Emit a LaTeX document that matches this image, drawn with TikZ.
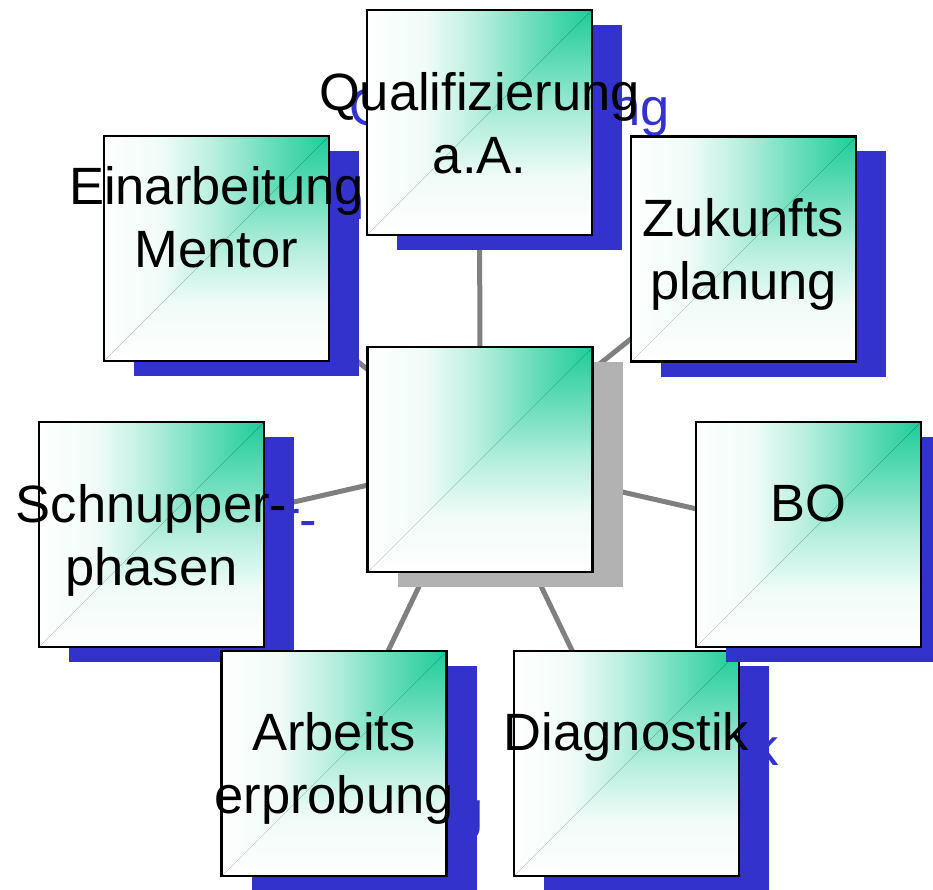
\documentclass[tikz,border=0pt]{standalone}
\usepackage{fontspec}
\setmainfont{Liberation Sans}
\definecolor{gr}{RGB}{30,204,153}
\definecolor{shblue}{RGB}{51,51,204}
\definecolor{shgray}{RGB}{178,178,178}
\definecolor{lngray}{RGB}{128,128,128}
\pgfdeclarehorizontalshading{gx}{100bp}{color(0bp)=(white); color(25bp)=(white); color(38bp)=(gr!7); color(50bp)=(gr!33); color(62.5bp)=(gr!68); color(75bp)=(gr); color(100bp)=(gr)}
\pgfdeclareverticalshading{gy}{100bp}{color(0bp)=(white); color(25bp)=(white); color(38bp)=(gr!7); color(50bp)=(gr!33); color(62.5bp)=(gr!68); color(75bp)=(gr); color(100bp)=(gr)}
\pgfdeclarelayer{bg}
\pgfsetlayers{bg,main}
\tikzset{
  cbox/.style={rectangle, draw=black, line width=2.2pt, inner sep=0pt,
    minimum width=225pt, minimum height=225pt,
    path picture={
      \fill[shading=gy] (path picture bounding box.north west) rectangle (path picture bounding box.south east);
      \fill[shading=gx] (path picture bounding box.north west) -- (path picture bounding box.north east) -- (path picture bounding box.south west) -- cycle;
    }},
  txt/.style={inner sep=0pt, anchor=base, font=\fontsize{52.5}{62}\selectfont},
  conn/.style={draw=lngray, line width=5pt},
}
% name, cx, cy, line1, line2, first-baseline offset from top
\newcommand\myitem[6]{%
  \fill[shblue] (#2-112.5+30,#3-112.5+15) rectangle (#2+112.5+30,#3+112.5+15);
  \node[txt, text=shblue] (#1s1) at (#2+30,#3-112.5+#6+15) {#4};
  \if\relax\detokenize{#5}\relax\else
  \node[txt, text=shblue] (#1s2) at (#2+30,#3-112.5+#6+63+15) {#5};
  \fi
  \node[cbox] (#1) at (#2,#3) {};
  \node[txt] (#1t1) at (#2,#3-112.5+#6) {#4};
  \if\relax\detokenize{#5}\relax\else
  \node[txt] (#1t2) at (#2,#3-112.5+#6+63) {#5};
  \fi
}
\begin{document}
\begin{tikzpicture}[x=1pt,y=-1pt]
\useasboundingbox (0,0) rectangle (933,890);
\myitem{E}{216.5}{248.5}{Einarbeitung}{Mentor}{69}
\myitem{Q}{479.5}{122.5}{Qualifizierung}{a.A.}{101}
\myitem{Z}{743.5}{249}{Zukunfts}{planung}{100}
\myitem{S}{151.5}{534.5}{Schnupper-}{phasen}{100}
\myitem{A}{334}{763.5}{Arbeits}{erprobung}{99}
\myitem{D}{626.5}{763.5}{Diagnostik}{}{99}
\myitem{B}{808.5}{534.5}{BO}{}{99}
\fill[shgray] (480-112.5+30,459.5-112.5+15) rectangle (480+112.5+30,459.5+112.5+15);
\node[cbox] (C) at (480,459.5) {};
\begin{pgfonlayer}{bg}
  \foreach \t in {E,Q,Z,S,A,D,B} \draw[conn] (C.center) -- (\t.center);
\end{pgfonlayer}
\end{tikzpicture}
\end{document}
